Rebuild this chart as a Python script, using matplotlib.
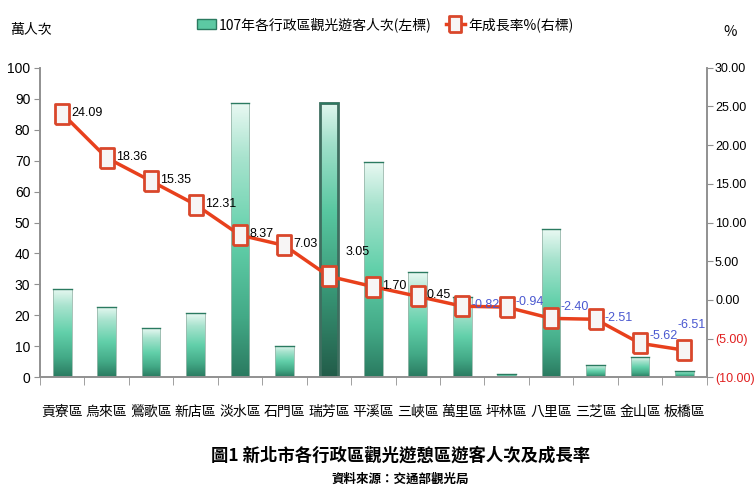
import matplotlib
matplotlib.use("Agg")
import matplotlib.pyplot as plt
import numpy as np
from matplotlib.colors import LinearSegmentedColormap
from matplotlib.patches import Patch
from matplotlib.lines import Line2D

plt.rcParams['font.family'] = ['Noto Sans CJK TC', 'DejaVu Sans']

districts = ['貢寮區', '烏來區', '鶯歌區', '新店區', '淡水區', '石門區', '瑞芳區', '平溪區',
             '三峽區', '萬里區', '坪林區', '八里區', '三芝區', '金山區', '板橋區']
visitors = [28.6, 22.8, 15.8, 20.6, 88.6, 10.1, 88.6, 69.5, 33.9, 26.0, 0.9, 47.8, 3.8, 6.4, 2.0]
growth = [24.09, 18.36, 15.35, 12.31, 8.37, 7.03, 3.05, 1.70, 0.45, -0.82, -0.94, -2.40, -2.51, -5.62, -6.51]
left_ticks = list(range(0, 101, 10))
right_ticks = [-10, -5, 0, 5, 10, 15, 20, 25, 30]

num_font = dict(family=['Liberation Sans', 'DejaVu Sans'])

fig = plt.figure(figsize=(7.55, 4.95), dpi=100)
ax = fig.add_axes([0.053, 0.238, 0.883, 0.625])
ax2 = ax.twinx()

x = np.arange(len(districts))
bars = ax.bar(x, visitors, width=0.42, color='none', edgecolor='#9ab8ac', linewidth=0.6, zorder=2)

cmap = LinearSegmentedColormap.from_list(
    'g', [(0, '#2a7a60'), (0.22, '#43aa87'), (0.5, '#62d0aa'), (0.8, '#a8e3ce'), (1, '#eaf9f3')])
cmap_dark = LinearSegmentedColormap.from_list(
    'gd', [(0, '#225c49'), (0.3, '#379474'), (0.6, '#58c7a0'), (0.85, '#a0e0ca'), (1, '#e2f7ef')])
grad = np.linspace(0, 1, 256).reshape(-1, 1)
for i, b in enumerate(bars):
    x0, w, h = b.get_x(), b.get_width(), b.get_height()
    cm = cmap_dark if i == 6 else cmap
    im = ax.imshow(grad, extent=[x0, x0 + w, 0, h], origin='lower', aspect='auto', cmap=cm, zorder=1.5)
    im.set_clip_path(b)
    ax.plot([x0, x0 + w], [h, h], color='#2a7a60', lw=1.0, zorder=2.5)
    if i == 6:
        b.set_edgecolor('#3f6f60')
        b.set_linewidth(2.0)

ax.set_xlim(-0.5, len(districts) - 0.5)
ax.set_ylim(0, 100)
ax.set_yticks(left_ticks)
ax.set_yticklabels([str(v) for v in left_ticks], fontsize=10, **num_font)
ax.set_xticks(x)
ax.set_xticklabels(districts, fontsize=10)
ax.set_xticks(np.arange(-0.5, len(districts), 1), minor=True)
ax.tick_params(axis='x', which='major', length=0, pad=20)
ax.tick_params(axis='x', which='minor', length=6, color='#909090', direction='out')
ax.tick_params(axis='y', length=4, color='#909090', direction='out', pad=3)

ax2.set_ylim(-10, 30)
ax2.set_yticks(right_ticks)
ax2.set_yticklabels([f'({abs(v):.2f})' if v < 0 else f'{v:.2f}' for v in right_ticks],
                    fontsize=9, **num_font)
for t, v in zip(ax2.get_yticklabels(), right_ticks):
    if v < 0:
        t.set_color('#e02020')
ax2.tick_params(axis='y', length=4, color='#909090', direction='out', pad=2)

for a in (ax, ax2):
    a.spines['top'].set_visible(False)
    for s in ['left', 'right', 'bottom']:
        a.spines[s].set_color('#909090')
        a.spines[s].set_linewidth(1.2)

rect_marker = [(-0.7, -1), (0.7, -1), (0.7, 1), (-0.7, 1), (-0.7, -1)]
ax2.plot(x, growth, color='#e8401c', lw=2.5, marker=rect_marker, markersize=15,
         mfc='#f7f5f5', mec='#d9472b', mew=2, zorder=5)

for i, (xi, g) in enumerate(zip(x, growth)):
    col = '#000000' if g >= 0 else '#4a58d0'
    lbl = f'{g:.2f}'
    if i == 6:
        off, ha = (17, 24), 'left'
    elif i == 14:
        off, ha = (7, 25), 'center'
    elif i == 11:
        off, ha = (9, 11), 'left'
    elif i == 13:
        off, ha = (9, 7), 'left'
    elif i == 10:
        off, ha = (9, 5), 'left'
    else:
        off, ha = (9, 1), 'left'
    ax2.annotate(lbl, (xi, g), xytext=off, textcoords='offset pixels', zorder=6,
                 fontsize=9, color=col, va='center', ha=ha, **num_font)

handles = [Patch(facecolor='#5cc9a3', edgecolor='#2a7a60'),
           Line2D([0], [0], color='#e8401c', lw=2.5, marker=rect_marker, markersize=12,
                  mfc='#f7f5f5', mec='#d9472b', mew=2)]
fig.legend(handles, ['107年各行政區觀光遊客人次(左標)', '年成長率%(右標)'], loc='center',
           bbox_to_anchor=(0.51, 0.95), ncol=2, frameon=False, fontsize=10,
           handlelength=1.4, handletextpad=0.2, columnspacing=1.0)

fig.text(0.013, 0.94, '萬人次', fontsize=10, va='center', ha='left')
fig.text(0.967, 0.935, '%', fontsize=10.5, va='center', ha='center')
fig.text(0.53, 0.08, '圖1 新北市各行政區觀光遊憩區遊客人次及成長率', fontsize=12.5, fontweight='bold',
         ha='center', va='center')
fig.text(0.53, 0.032, '資料來源：交通部觀光局', fontsize=9, fontweight='bold', ha='center', va='center')

fig.savefig('out.png', dpi=100)
